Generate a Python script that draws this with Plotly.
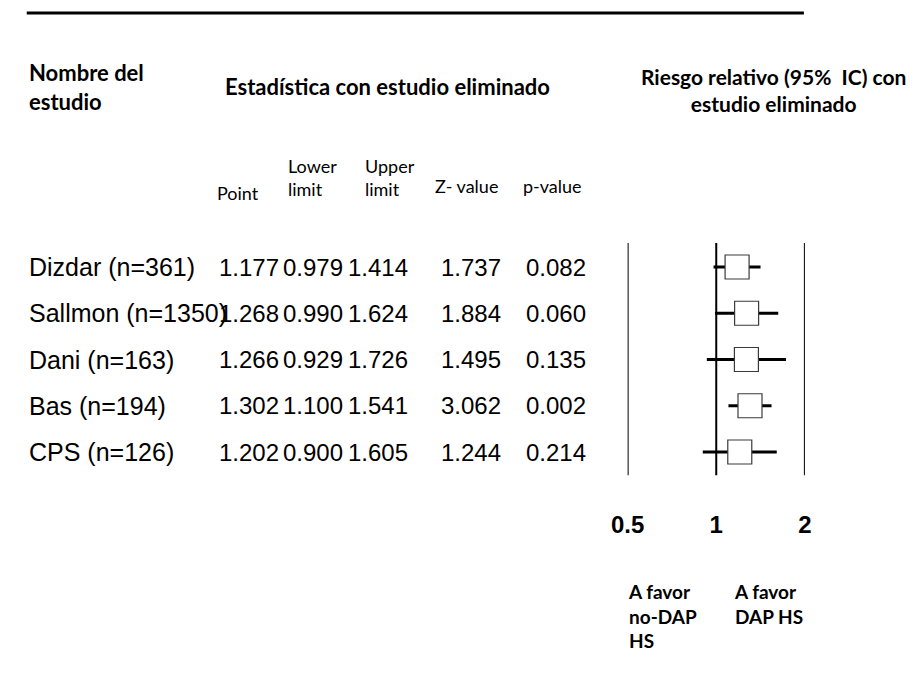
import math
import plotly.graph_objects as go

W, H = 919, 673

# ---- data ----
studies = ["Dizdar (n=361)", "Sallmon (n=1350)", "Dani (n=163)", "Bas (n=194)", "CPS (n=126)"]
point = [1.177, 1.268, 1.266, 1.302, 1.202]
lower = [0.979, 0.990, 0.929, 1.100, 0.900]
upper = [1.414, 1.624, 1.726, 1.541, 1.605]
zval = [1.737, 1.884, 1.495, 3.062, 1.244]
pval = [0.082, 0.060, 0.135, 0.002, 0.214]
tick_vals = [0.5, 1, 2]
tick_text = ["0.5", "1", "2"]
col_headers = ["Point", "Lower<br>limit", "Upper<br>limit", "Z- value", "p-value"]

rows = list(range(len(studies)))

def px(x):
    return x / W

def py(y):
    return 1 - y / H

row0_px, row_step = 267, 46.25
y_top = -row0_px / row_step
y_bot = (H - row0_px) / row_step

fig = go.Figure()

# confidence-interval whiskers
xs, ys = [], []
for lo, hi, r in zip(lower, upper, rows):
    xs += [lo, hi, None]
    ys += [r, r, None]
fig.add_trace(go.Scatter(x=xs, y=ys, mode="lines",
                         line=dict(color="black", width=3),
                         hoverinfo="skip", showlegend=False))
# point-estimate boxes
fig.add_trace(go.Scatter(x=point, y=rows, mode="markers",
                         marker=dict(symbol="square", size=24, color="white",
                                     line=dict(color="#3a3a3a", width=1.2)),
                         showlegend=False))

# reference lines at 0.5, 1, 2
for v in tick_vals:
    fig.add_shape(type="line", xref="x", yref="y", x0=v, x1=v,
                  y0=-0.52, y1=4.5, line=dict(color="black", width=2))

# top rule
fig.add_shape(type="line", xref="paper", yref="paper", x0=px(10), x1=px(808),
              y0=py(13), y1=py(13), line=dict(color="black", width=3))

ann = []
hdr_font = dict(family="Lato", size=22, color="black")
ann.append(dict(text="<b>Nombre del<br>estudio</b>", x=px(10), y=py(87), xanchor="left",
                yanchor="middle", align="left", font=hdr_font))
ann.append(dict(text="<b>Estadística con estudio eliminado</b>", x=px(380), y=py(86),
                xanchor="center", yanchor="middle", font=hdr_font))
ann.append(dict(text="<b>Riesgo relativo (95%  IC) con<br>estudio eliminado</b>", x=px(777),
                y=py(90), xanchor="center", yanchor="middle", align="center",
                font=dict(family="Lato", size=21, color="black")))

col_x = [238, 304, 371, 466, 553]
hdr_x = [227, 303, 383, 462, 550]
hdr_y = [193, 178, 178, 186, 186]
sub_font = dict(family="Lato", size=18, color="black")
for t, x, y in zip(col_headers, hdr_x, hdr_y):
    ann.append(dict(text=t, x=px(x), y=py(y), xanchor="center", yanchor="middle",
                    align="left", font=sub_font))

name_font = dict(family="Liberation Sans", size=25, color="black")
num_font = dict(family="Liberation Sans", size=24, color="black")
for r, name in zip(rows, studies):
    ann.append(dict(text=name, x=px(10), xref="paper", y=r, yref="y",
                    xanchor="left", yanchor="middle", font=name_font))
    vals = [f"{point[r]:.3f}", f"{lower[r]:.3f}", f"{upper[r]:.3f}",
            f"{zval[r]:.3f}", f"{pval[r]:.3f}"]
    for v, x in zip(vals, col_x):
        ann.append(dict(text=v, x=px(x), xref="paper", y=r, yref="y",
                        xanchor="center", yanchor="middle", font=num_font))

fav_font = dict(family="Lato", size=19, color="black")
ann.append(dict(text="<b>A favor<br>no-DAP<br>HS</b>", x=px(625), y=py(578), xanchor="left",
                yanchor="top", align="left", font=fav_font))
ann.append(dict(text="<b>A favor<br>DAP HS</b>", x=px(734), y=py(578), xanchor="left",
                yanchor="top", align="left", font=fav_font))

for a in ann:
    a.setdefault("xref", "paper")
    a.setdefault("yref", "paper")
    a["showarrow"] = False

fig.update_layout(
    width=W, height=H,
    margin=dict(l=0, r=0, t=0, b=0),
    paper_bgcolor="white", plot_bgcolor="white",
    annotations=ann,
    xaxis=dict(type="log", domain=[px(627), px(809)],
               range=[math.log10(0.5), math.log10(2)],
               tickvals=tick_vals, ticktext=[f"<b>{t}</b>" for t in tick_text],
               tickfont=dict(family="Liberation Sans", size=24, color="black"),
               showgrid=False, zeroline=False, showline=False, ticks="",
               anchor="free", position=py(508), side="bottom"),
    yaxis=dict(range=[y_bot, y_top], domain=[0, 1], visible=False,
               showgrid=False, zeroline=False),
    showlegend=False,
)

fig.write_html("out.html", config={"displayModeBar": False},
               post_script="document.body.style.margin='0';document.body.style.overflow='hidden';")
